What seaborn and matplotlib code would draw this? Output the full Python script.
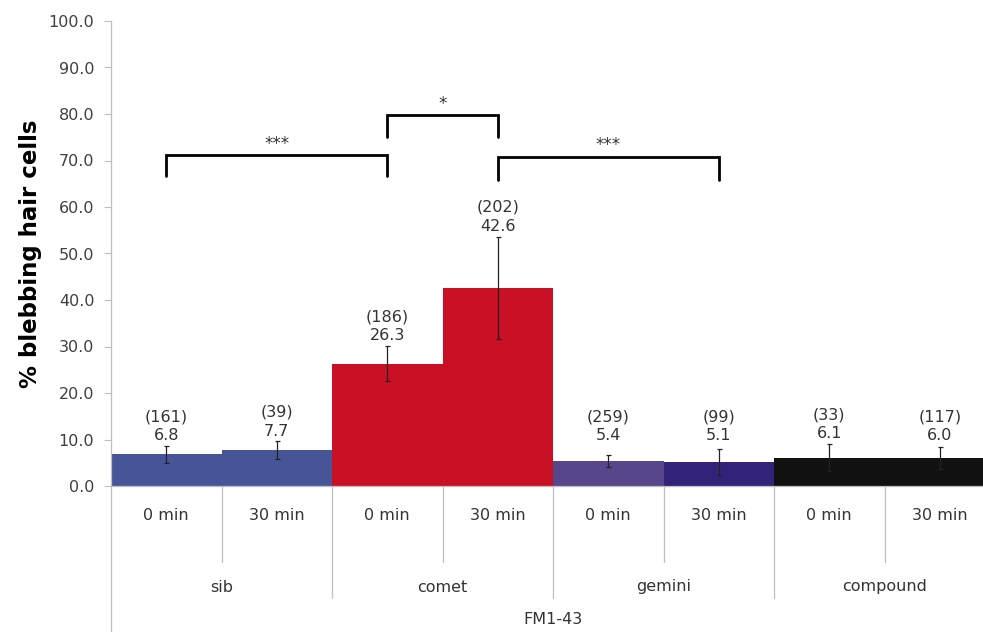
import matplotlib
matplotlib.use("Agg")
import matplotlib.pyplot as plt
import matplotlib.transforms as mtransforms
import seaborn as sns
import pandas as pd

# ---- data ----
groups = ["sib", "sib", "comet", "comet", "gemini", "gemini", "compound", "compound"]
times = ["0 min", "30 min", "0 min", "30 min", "0 min", "30 min", "0 min", "30 min"]
values = [6.8, 7.7, 26.3, 42.6, 5.4, 5.1, 6.1, 6.0]
errors = [1.8, 1.9, 3.8, 11.0, 1.3, 2.8, 2.9, 2.3]
counts = [161, 39, 186, 202, 259, 99, 33, 117]
group_names = ["sib", "comet", "gemini", "compound"]
outer_label = "FM1-43"
ylabel = "% blebbing hair cells"
yticks = [0, 10, 20, 30, 40, 50, 60, 70, 80, 90, 100]
bar_colors = ["#465597", "#465597", "#CA1024", "#CA1024", "#574689", "#34217A", "#111111", "#111111"]
# significance brackets: (left bar index, right bar index, top value, leg bottom, label)
brackets = [(0, 2, 71.2, 66.7, "***"), (2, 3, 79.8, 75.0, "*"), (3, 5, 70.8, 65.8, "***")]

sns.set_style("white")
plt.rcParams["font.family"] = ["DejaVu Sans"]

FS = 11.5
W, H = 983, 632
fig = plt.figure(figsize=(W / 100, H / 100), dpi=100)
ax = fig.add_axes([111 / W, (H - 486) / H, (995 - 111) / W, (486 - 21) / H])

conds = [f"{g} {t}" for g, t in zip(groups, times)]
df = pd.DataFrame({"cond": conds, "pct": values})
sns.barplot(data=df, x="cond", y="pct", hue="cond", palette=bar_colors,
            width=1.0, saturation=1, legend=False, ax=ax, errorbar=None,
            linewidth=0)

xs = list(range(len(values)))
ax.errorbar(xs, values, yerr=errors, fmt="none", ecolor="#222222",
            elinewidth=0.9, capsize=1.8, capthick=0.9, zorder=5)

ax.set_xlim(-0.5, len(values) - 0.5)
ax.set_ylim(0, 100)
ax.set_yticks(yticks)
ax.set_yticklabels([f"{v:.1f}" for v in yticks], fontsize=FS, color="#404040")
ax.tick_params(axis="y", direction="out", length=5, width=0.8, color="#BFBFBF", pad=7, left=True)
ax.set_xticks([])
ax.set_xlabel("")

for s in ["top", "right"]:
    ax.spines[s].set_visible(False)
for s in ["left", "bottom"]:
    ax.spines[s].set_color("#BFBFBF")
    ax.spines[s].set_linewidth(0.9)

# data labels
for x, v, e, n in zip(xs, values, errors, counts):
    y = max(v + e, 8.6) + 0.6
    ax.text(x, y, f"({n})\n{v:.1f}", ha="center", va="bottom", fontsize=FS,
            color="#333333", linespacing=1.35)

# significance brackets
for a, b, top, bot, lab in brackets:
    ax.plot([a, a, b, b], [bot, top, top, bot], color="black", lw=2.0,
            solid_joinstyle="miter", zorder=6)
    ax.text((a + b) / 2, top + 0.5, lab, ha="center", va="bottom", fontsize=FS + 0.5,
            color="#333333")

# multi-level category axis below the plot
trans = mtransforms.blended_transform_factory(ax.transData, fig.transFigure)
def fy(py):
    return (H - py) / H

for x, t in zip(xs, times):
    ax.text(x, fy(515), t, transform=trans, ha="center", va="center",
            fontsize=FS, color="#333333")
for i, g in enumerate(group_names):
    ax.text(2 * i + 0.5, fy(587), g, transform=trans, ha="center", va="center",
            fontsize=FS, color="#333333")
ax.text(3.5, fy(620), outer_label, transform=trans, ha="center", va="center",
        fontsize=FS, color="#333333")

line_kw = dict(transform=trans, color="#BFBFBF", lw=0.9, clip_on=False)
for k in range(1, len(values)):
    xb = k - 0.5
    bottom = 598 if k % 2 == 0 else 562
    ax.plot([xb, xb], [fy(486), fy(bottom)], **line_kw)
ax.plot([-0.5, -0.5], [fy(486), fy(632)], **line_kw)

ax.set_ylabel(ylabel, fontsize=16.5, fontweight="bold", color="black")
ax.yaxis.set_label_coords(-0.078, 0.5)

fig.savefig("out.png", dpi=100)
